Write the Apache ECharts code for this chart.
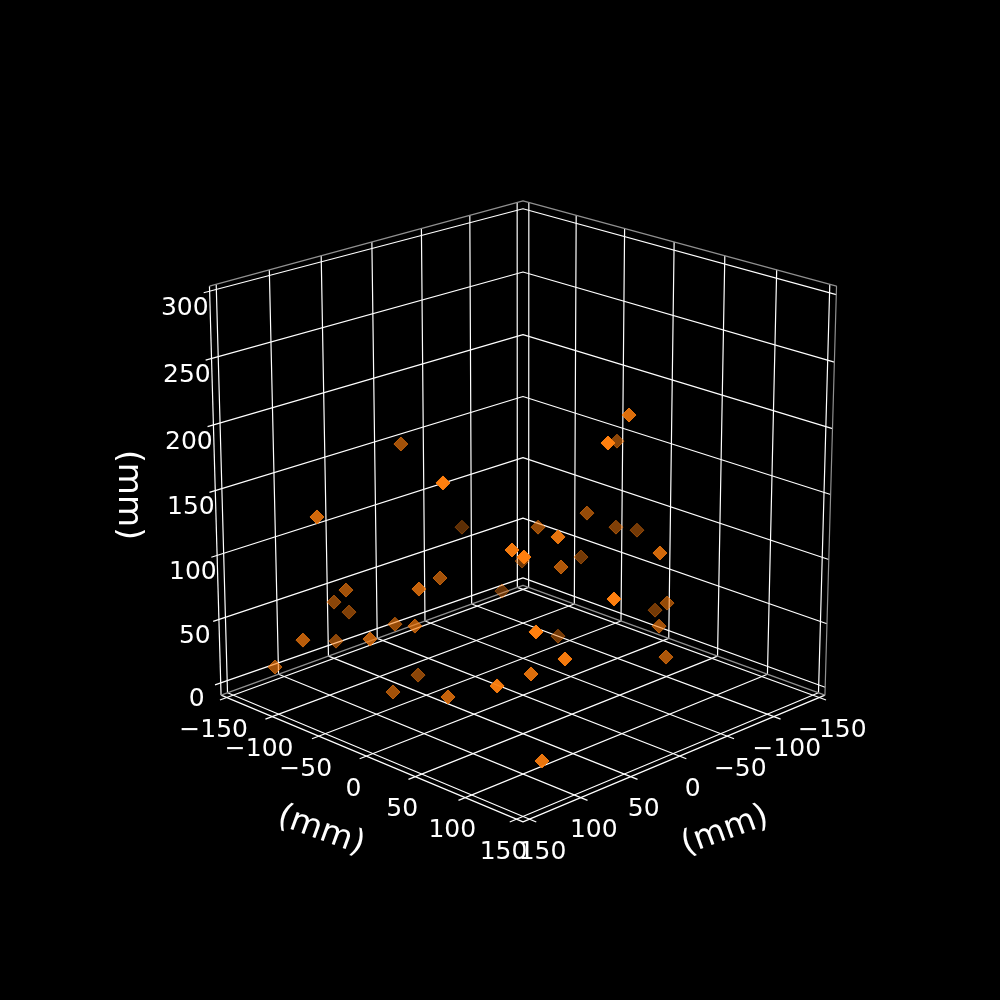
<!DOCTYPE html>
<html><head><meta charset="utf-8"><style>html,body{margin:0;background:#000}#c{width:1000px;height:1000px}</style>
<script src="https://cdn.jsdelivr.net/npm/echarts@6/dist/echarts.min.js"></script></head><body><div id="c"></div>
<script>
// Point coordinates in mm
const xs=[40.4,131.3,146.9,-55.6,43.8,95.5,94,76.9,58.2,62.1,78,149.8,82.8,115.8,143.8,46.3,87.8,99.4,125.6,-52,-11.5,45.1,-98.4,-56.4,-28.7,57.6,-96.4,-120.7,95.7,104.5,-54.7,-86.4,-6.4,-17.4,68,-81.8,-115.8,-59.8,-44.1,111.1,-60.1,88.1,80.5,103];
const ys=[-84.5,54.1,-57.9,-120.7,-41.1,-8.7,-87.1,-119.2,-123.6,-69.8,-31.8,-72.1,-111.2,-38.5,-109.9,-62.6,-45.2,24.3,100.4,-74.3,93.1,127.1,-0.9,9.5,-13.2,91.9,0.7,-0.8,85,105.4,-55.7,-25.4,32.2,118.7,155.8,66.6,23.1,79.4,101.1,123.6,-23.3,128.9,88.4,121.6];
const zs=[177.5,206.1,156.1,78.4,86.4,101.1,78.2,55.1,40.7,47.5,61.3,59.5,28.2,60.2,25.9,4.8,8.9,29.3,68.1,40.5,230,231.7,166.1,123.5,113.9,157.2,99.7,90.5,155.9,158.6,68.9,71.7,101.2,132.3,131.7,61.9,34.6,53.7,40.4,110.6,16.4,85.5,60.2,11.4];
const ticks=[-150,-100,-50,0,50,100,150];
const zticks=[0,50,100,150,200,250,300];
const axisTitle='(mm)';

const EL=20*Math.PI/180,CE=Math.cos(EL),SE=Math.sin(EL),DIST=10,S=3955,CX=523,CY=494.5,B=1.1;
const LO=-156.25,HI=156.25,ZLO=-6.25,ZHI=306.25,T=6.5;
function project(x,y,z){const X=x/312.5*B,Y=y/312.5*B,Z=(z-150)/312.5*B;const u=(Y-X)/Math.SQRT2,d=(X+Y)/Math.SQRT2;const yv=Z*CE-d*SE,D=Z*SE+d*CE;const w=DIST-D;return [CX+S*u/w,CY-S*yv/w,D];}
const series=[];
function line(pts,color){series.push({type:'line',silent:true,showSymbol:false,animation:false,z:2,lineStyle:{color,width:1.2},data:pts.map(p=>project(...p).slice(0,2))});}
ticks.forEach(t=>{line([[HI+T,t,ZLO],[LO,t,ZLO],[LO,t,ZHI]],'#fff');line([[t,HI+T,ZLO],[t,LO,ZLO],[t,LO,ZHI]],'#fff');});
zticks.forEach(t=>line([[HI,LO-T,t],[LO,LO,t],[LO,HI,t]],'#fff'));
line([[HI,LO,ZLO],[HI,LO,ZHI]],'#fff');
line([[HI,LO,ZLO],[HI,HI,ZLO],[LO,HI,ZLO]],'#fff');
line([[HI,LO,ZHI],[LO,LO,ZHI],[LO,HI,ZHI],[LO,HI,ZLO],[LO,LO,ZLO],[HI,LO,ZLO]],'#909090');
const pts=xs.map((x,i)=>project(x,ys[i],zs[i]));
const Ds=pts.map(p=>p[2]),mn=Math.min(...Ds),mx=Math.max(...Ds);
const data=pts.map(p=>{const a=1-.64*(mx-p[2])/(mx-mn);return {value:p.slice(0,2),d:p[2],itemStyle:{opacity:1,color:`rgba(255,127,14,${a})`,borderColor:`rgba(255,127,14,${a})`,borderWidth:1}};}).sort((a,b)=>a.d-b.d);
series.push({type:'scatter',silent:true,animation:false,z:5,symbol:'diamond',symbolSize:14,data});
function labels(items,size,rot){series.push({type:'scatter',silent:true,animation:false,z:6,symbolSize:0,itemStyle:{opacity:1},data:items.map(it=>({value:it.p,label:{show:true,position:'inside',formatter:it.t,color:'#fff',fontFamily:'DejaVu Sans',fontSize:size,rotate:rot,offset:it.o||[0,0]}}))});}
const fmt=v=>String(v).replace('-','\u2212');
labels(zticks.map(t=>({p:project(HI,LO-27,t).slice(0,2),t:fmt(t),o:[0,22]})),25,0);
labels(ticks.map(t=>({p:project(HI,t,ZLO).slice(0,2),t:fmt(t),o:[-13,33]})),25,0);
labels(ticks.map(t=>({p:project(t,HI,ZLO).slice(0,2),t:fmt(t),o:[13,33]})),25,0);
labels([{p:[321,831],t:axisTitle}],33,-20);labels([{p:[725,831],t:axisTitle}],33,20);labels([{p:[128,495],t:axisTitle}],33,-90);
const c=echarts.init(document.getElementById('c'));
c.setOption({backgroundColor:'#000',animation:false,grid:{left:0,right:0,top:0,bottom:0},xAxis:{type:'value',min:0,max:1000,show:false},yAxis:{type:'value',min:0,max:1000,inverse:true,show:false},series});
</script></body></html>
